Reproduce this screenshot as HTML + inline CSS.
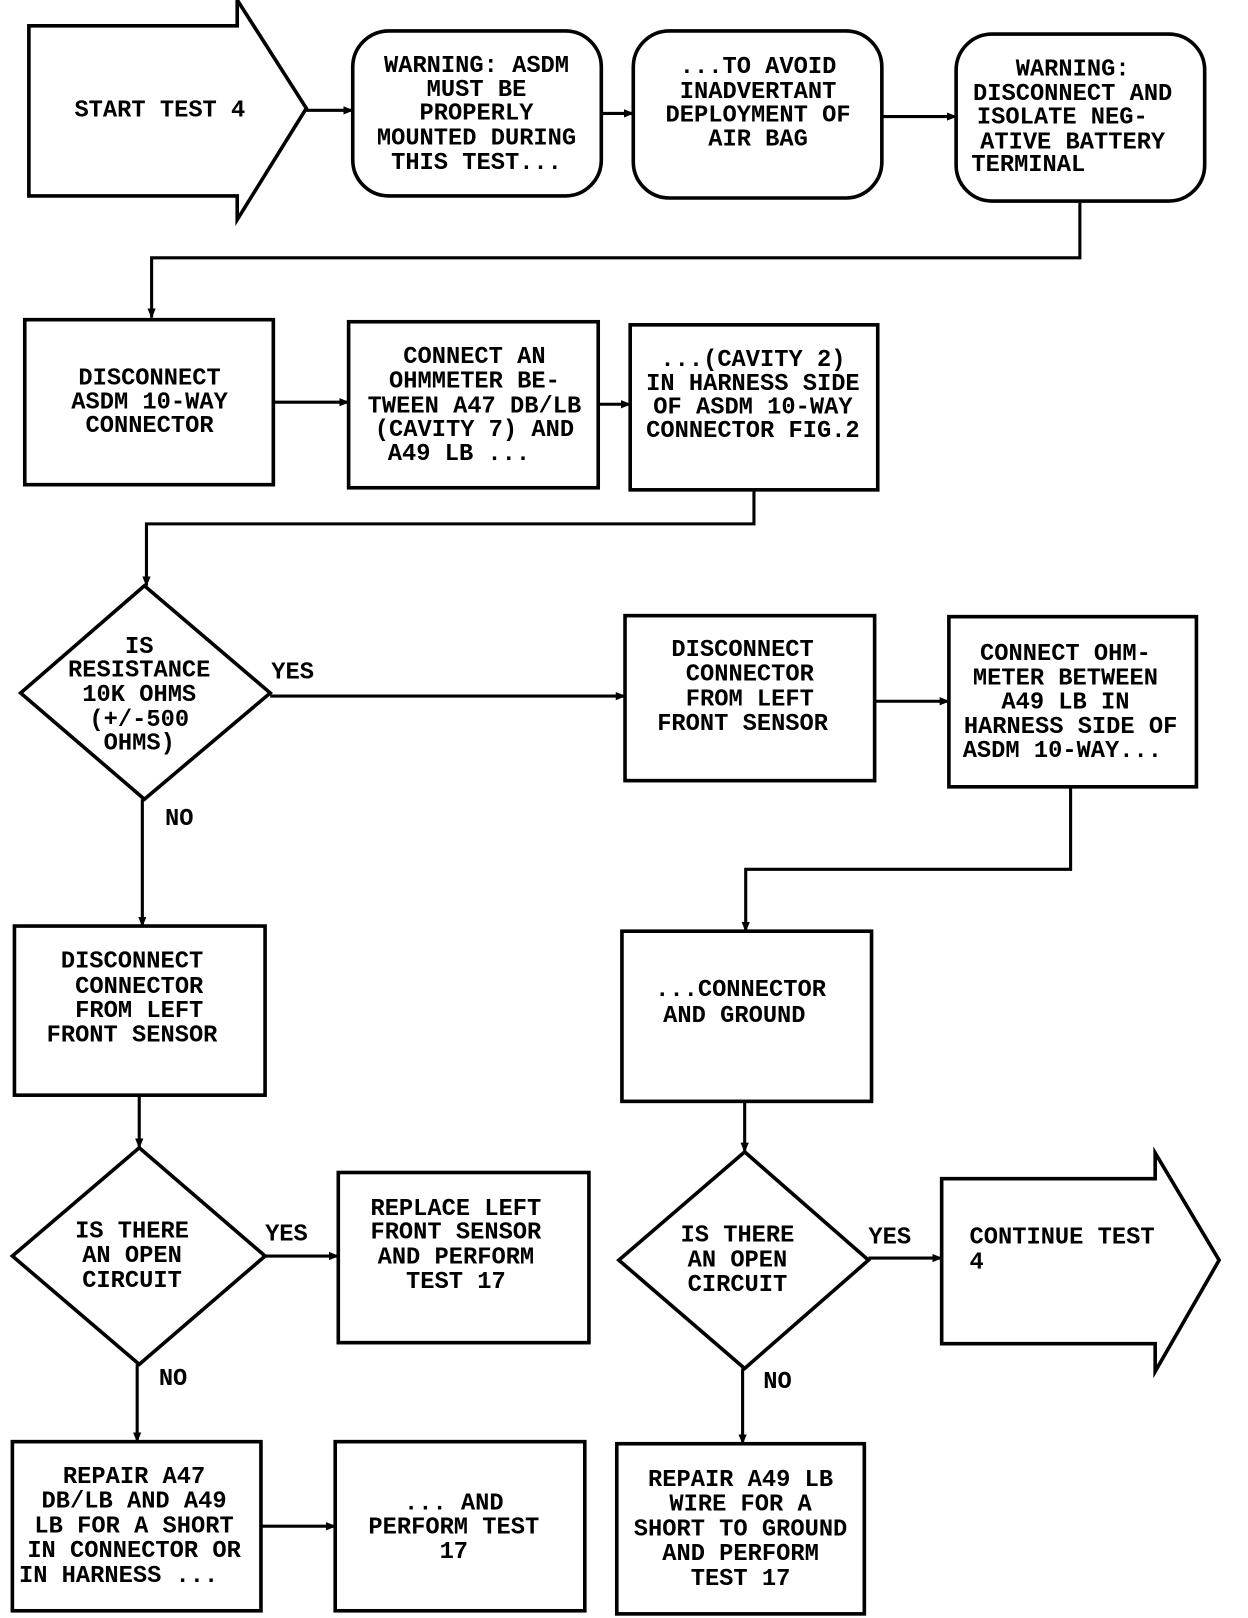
<!DOCTYPE html>
<html><head><meta charset="utf-8"><style>
html,body{margin:0;padding:0;background:#fff}
svg{display:block}
text{font-family:"Liberation Mono",monospace;font-weight:bold;font-size:23px;fill:#000}
.c{text-anchor:middle}
</style></head><body>
<svg width="1248" height="1618" viewBox="0 0 1210 1569" preserveAspectRatio="none" xmlns="http://www.w3.org/2000/svg">
<defs><marker id="a" markerWidth="10" markerHeight="10" refX="9" refY="5" orient="auto" markerUnits="userSpaceOnUse"><path d="M0,1 L10,5 L0,9 z" fill="#000"/></marker></defs>
<g fill="none" stroke="#000" stroke-width="3.5">
<path d="M28,25 H230 V0 L297,105 L230,213 V190 H28 Z"/>
<rect x="342" y="30" width="241" height="160" rx="35"/>
<rect x="614" y="30" width="241" height="162" rx="35"/>
<rect x="927" y="33" width="241" height="162" rx="35"/>
<rect x="24" y="310" width="241" height="160"/>
<rect x="338" y="312" width="242" height="161"/>
<rect x="611" y="315" width="240" height="160"/>
<path d="M140,568 L262,672 L140,775 L20,672 Z"/>
<rect x="606" y="597" width="242" height="160"/>
<rect x="920" y="598" width="240" height="165"/>
<rect x="603" y="903" width="242" height="165"/>
<rect x="14" y="898" width="243" height="164"/>
<path d="M135,1113 L257,1218 L135,1323 L12,1218 Z"/>
<rect x="328" y="1137" width="243" height="165"/>
<rect x="12" y="1398" width="241" height="164"/>
<rect x="325" y="1398" width="242" height="164"/>
<path d="M722,1117 L842,1222 L722,1327 L600,1222 Z"/>
<path d="M913,1143 H1120 V1118 L1182,1222 L1120,1330 V1303 H913 Z"/>
<rect x="598" y="1400" width="240" height="165"/>
</g>
<g fill="none" stroke="#000" stroke-width="3" marker-end="url(#a)">
<path d="M297,107 H342"/>
<path d="M583,110 H614"/>
<path d="M855,113 H927"/>
<path d="M1047,195 V250 H147 V308"/>
<path d="M265,390 H338"/>
<path d="M580,392 H611"/>
<path d="M731,475 V508 H142 V568"/>
<path d="M262,675 H606"/>
<path d="M848,680 H920"/>
<path d="M1038,763 V843 H723 V903"/>
<path d="M138,775 V898"/>
<path d="M135,1062 V1113"/>
<path d="M257,1218 H328"/>
<path d="M133,1323 V1398"/>
<path d="M253,1480 H325"/>
<path d="M722,1068 V1117"/>
<path d="M842,1220 H913"/>
<path d="M720,1327 V1400"/>
</g>
<text class="c" x="155" y="113">START TEST 4</text>
<g class="c">
<text class="c" x="462" y="70">WARNING: ASDM</text><text class="c" x="462" y="93">MUST BE</text><text class="c" x="462" y="116">PROPERLY</text><text class="c" x="462" y="140">MOUNTED DURING</text><text class="c" x="462" y="164">THIS TEST...</text>
<text class="c" x="735" y="71">...TO AVOID</text><text class="c" x="735" y="95">INADVERTANT</text><text class="c" x="735" y="118">DEPLOYMENT OF</text><text class="c" x="735" y="141">AIR BAG</text>
<text class="c" x="1040" y="73">WARNING:</text><text class="c" x="1040" y="97">DISCONNECT AND</text><text class="c" x="1030" y="120">ISOLATE NEG-</text><text class="c" x="1040" y="144">ATIVE BATTERY</text><text class="c" x="997" y="166">TERMINAL</text>
<text class="c" x="145" y="373">DISCONNECT</text><text class="c" x="145" y="396">ASDM 10-WAY</text><text class="c" x="145" y="419">CONNECTOR</text>
<text class="c" x="460" y="352">CONNECT AN</text><text class="c" x="460" y="376">OHMMETER BE-</text><text class="c" x="460" y="400">TWEEN A47 DB/LB</text><text class="c" x="460" y="423">(CAVITY 7) AND</text><text class="c" x="445" y="446">A49 LB ...</text>
<text class="c" x="730" y="355">...(CAVITY 2)</text><text class="c" x="730" y="378">IN HARNESS SIDE</text><text class="c" x="730" y="401">OF ASDM 10-WAY</text><text class="c" x="730" y="424">CONNECTOR FIG.2</text>
<text class="c" x="135" y="633">IS</text><text class="c" x="135" y="656">RESISTANCE</text><text class="c" x="135" y="680">10K OHMS</text><text class="c" x="135" y="704">(+/-500</text><text class="c" x="135" y="727">OHMS)</text>
<text class="c" x="720" y="636">DISCONNECT</text><text class="c" x="727" y="660">CONNECTOR</text><text class="c" x="727" y="684">FROM LEFT</text><text class="c" x="720" y="708">FRONT SENSOR</text>
<text class="c" x="1033" y="640">CONNECT OHM-</text><text class="c" x="1033" y="664">METER BETWEEN</text><text class="c" x="1033" y="687">A49 LB IN</text><text class="c" x="1038" y="711">HARNESS SIDE OF</text><text class="c" x="1030" y="734">ASDM 10-WAY...</text>
<text class="c" x="718" y="966">...CONNECTOR</text><text class="c" x="712" y="991">AND GROUND</text>
<text class="c" x="128" y="938">DISCONNECT</text><text class="c" x="135" y="963">CONNECTOR</text><text class="c" x="135" y="986">FROM LEFT</text><text class="c" x="128" y="1010">FRONT SENSOR</text>
<text class="c" x="128" y="1200">IS THERE</text><text class="c" x="128" y="1224">AN OPEN</text><text class="c" x="128" y="1248">CIRCUIT</text>
<text class="c" x="442" y="1178">REPLACE LEFT</text><text class="c" x="442" y="1201">FRONT SENSOR</text><text class="c" x="442" y="1225">AND PERFORM</text><text class="c" x="442" y="1249">TEST 17</text>
<text class="c" x="130" y="1438">REPAIR A47</text><text class="c" x="130" y="1462">DB/LB AND A49</text><text class="c" x="130" y="1486">LB FOR A SHORT</text><text class="c" x="130" y="1510">IN CONNECTOR OR</text><text class="c" x="115" y="1534">IN HARNESS ...</text>
<text class="c" x="440" y="1464">... AND</text><text class="c" x="440" y="1487">PERFORM TEST</text><text class="c" x="440" y="1511">17</text>
<text class="c" x="715" y="1204">IS THERE</text><text class="c" x="715" y="1228">AN OPEN</text><text class="c" x="715" y="1252">CIRCUIT</text>
<text class="c" x="718" y="1441">REPAIR A49 LB</text><text class="c" x="718" y="1465">WIRE FOR A</text><text class="c" x="718" y="1489">SHORT TO GROUND</text><text class="c" x="718" y="1513">AND PERFORM</text><text class="c" x="718" y="1537">TEST 17</text>
</g>
<text x="940" y="1206">CONTINUE TEST</text><text x="940" y="1230">4</text>
<text x="263" y="658">YES</text><text x="160" y="800">NO</text>
<text x="257" y="1203">YES</text><text x="154" y="1343">NO</text>
<text x="842" y="1206">YES</text><text x="740" y="1346">NO</text>
</svg>
</body></html>
